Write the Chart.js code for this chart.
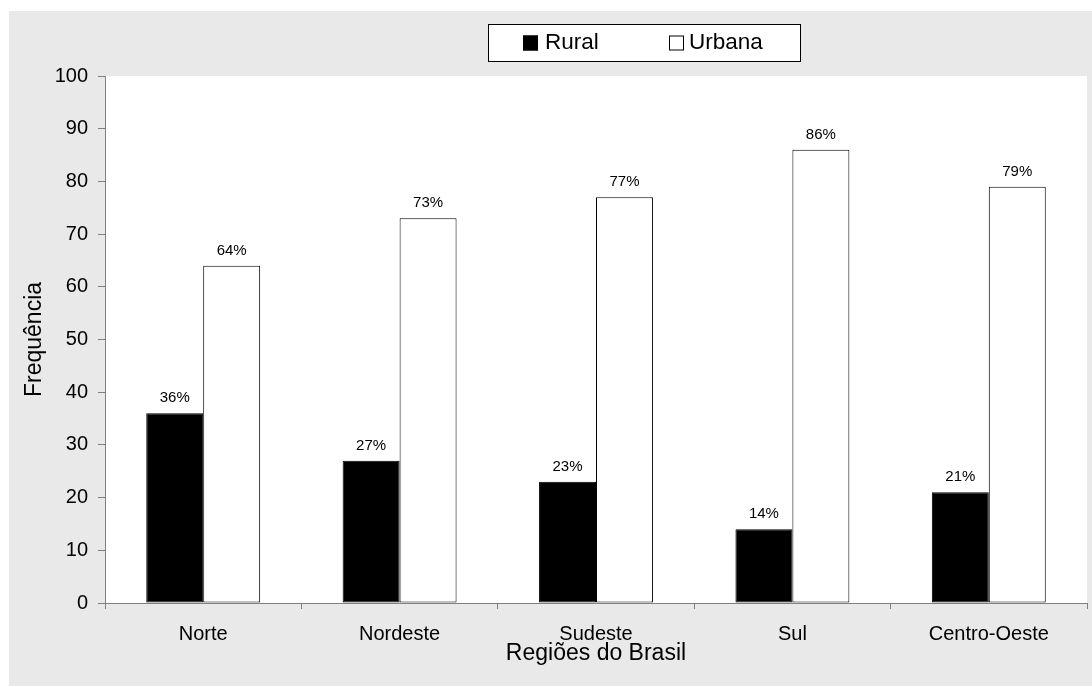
<!DOCTYPE html>
<html>
<head>
<meta charset="utf-8">
<script src="https://cdn.jsdelivr.net/npm/chart.js@4.4.1/dist/chart.umd.min.js"></script>
<style>
  html, body { margin: 0; padding: 0; background: #ffffff; }
  #wrap { width: 1092px; height: 687px; position: relative; }
</style>
</head>
<body>
<div id="wrap"><canvas id="c" width="1092" height="687"></canvas></div>
<script>
// Regiões do Brasil — distribuição rural x urbana (%)
const regioes = ['Norte', 'Nordeste', 'Sudeste', 'Sul', 'Centro-Oeste'];
const rural = [36, 27, 23, 14, 21];
const urbana = [64, 73, 77, 86, 79];
const yTicks = [0, 10, 20, 30, 40, 50, 60, 70, 80, 90, 100];

const FONT = "'Liberation Sans', Arial, sans-serif";
const AXIS_GRAY = '#808080';
const PANEL_GRAY = '#e9e9e9';

// Gray panel behind everything, white plot area
const panelPlugin = {
  id: 'panel',
  beforeDraw(chart) {
    const { ctx, chartArea: a } = chart;
    ctx.save();
    ctx.fillStyle = '#ffffff';
    ctx.fillRect(0, 0, chart.width, chart.height);
    ctx.fillStyle = PANEL_GRAY;
    ctx.fillRect(9, 11, chart.width - 9, chart.height - 12);
    ctx.fillStyle = '#ffffff';
    ctx.fillRect(a.left, a.top, a.right - a.left, a.bottom - a.top);
    ctx.restore();
  }
};

// Percentage labels above each bar
const valueLabels = {
  id: 'valueLabels',
  afterDatasetsDraw(chart) {
    const { ctx } = chart;
    ctx.save();
    ctx.font = '15px ' + FONT;
    ctx.fillStyle = '#000';
    ctx.textAlign = 'center';
    ctx.textBaseline = 'middle';
    chart.data.datasets.forEach((ds, i) => {
      chart.getDatasetMeta(i).data.forEach((bar, j) => {
        ctx.fillText(ds.data[j] + '%', bar.x, bar.y - 15);
      });
    });
    ctx.restore();
  }
};

// Boxed legend at the top
const boxedLegend = {
  id: 'boxedLegend',
  afterDraw(chart) {
    const { ctx } = chart;
    const box = { x: 488, y: 24, w: 312, h: 37 };
    ctx.save();
    ctx.fillStyle = '#ffffff';
    ctx.fillRect(box.x, box.y, box.w, box.h);
    ctx.strokeStyle = '#000';
    ctx.lineWidth = 1;
    ctx.strokeRect(box.x + 0.5, box.y + 0.5, box.w, box.h);
    const items = [{ sx: 523, tx: 545 }, { sx: 669, tx: 689 }];
    ctx.font = '22.5px ' + FONT;
    ctx.textBaseline = 'middle';
    ctx.textAlign = 'left';
    chart.data.datasets.forEach((ds, i) => {
      const it = items[i];
      const cy = box.y + box.h / 2 + 0.5;
      ctx.fillStyle = ds.backgroundColor;
      ctx.fillRect(it.sx, cy - 7.5, 15, 15);
      ctx.strokeStyle = '#000';
      ctx.strokeRect(it.sx + 0.5, cy - 7.5 + 0.5, 14, 14);
      ctx.fillStyle = '#000';
      ctx.fillText(ds.label, it.tx, cy);
    });
    ctx.restore();
  }
};

new Chart(document.getElementById('c'), {
  type: 'bar',
  data: {
    labels: regioes,
    datasets: [
      { label: 'Rural', data: rural, backgroundColor: '#000000', borderColor: '#000000', borderWidth: 1, borderSkipped: false },
      { label: 'Urbana', data: urbana, backgroundColor: '#ffffff', borderColor: '#000000', borderWidth: 1, borderSkipped: false }
    ]
  },
  options: {
    responsive: false,
    animation: false,
    events: [],
    layout: { padding: { left: 10, right: 5, top: 76, bottom: 0 } },
    datasets: { bar: { categoryPercentage: 0.58, barPercentage: 1.0 } },
    plugins: {
      legend: { display: false },
      tooltip: { enabled: false }
    },
    scales: {
      x: {
        grid: { display: true, drawOnChartArea: false, offset: true, tickLength: 6, tickColor: AXIS_GRAY },
        border: { display: true, color: AXIS_GRAY, width: 1 },
        ticks: { color: '#000', font: { family: FONT, size: 20 }, padding: 13, maxRotation: 0 },
        title: { display: true, text: 'Regiões do Brasil', color: '#000', font: { family: FONT, size: 23 }, padding: { top: 0, bottom: 20 } },
        afterFit(s) { s.height = 84; }
      },
      y: {
        min: 0, max: 100,
        afterBuildTicks(s) { s.ticks = yTicks.map(v => ({ value: v })); },
        grid: { display: true, drawOnChartArea: false, tickLength: 7, tickColor: AXIS_GRAY },
        border: { display: true, color: AXIS_GRAY, width: 1 },
        ticks: { color: '#000', font: { family: FONT, size: 20 }, padding: 10 },
        title: { display: true, text: 'Frequência', color: '#000', font: { family: FONT, size: 23 }, padding: { top: 11, bottom: 11 } },
        afterFit(s) { s.width = 95; }
      }
    }
  },
  plugins: [panelPlugin, valueLabels, boxedLegend]
});
</script>
</body>
</html>
